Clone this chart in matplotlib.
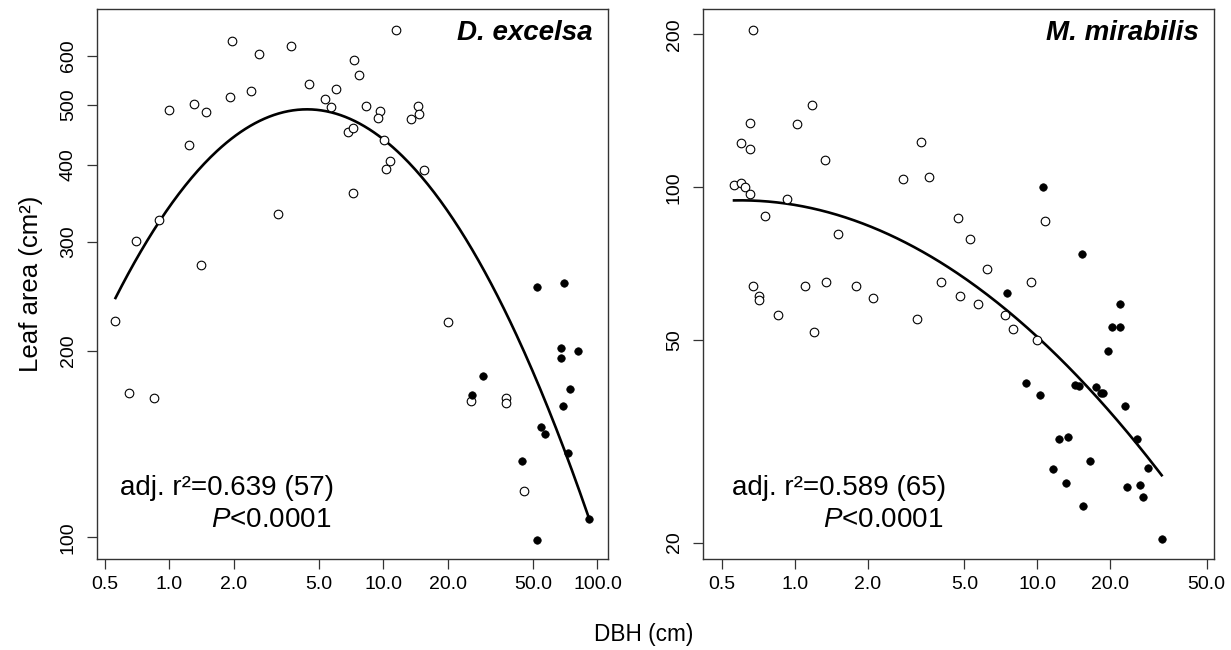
import numpy as np
import matplotlib
matplotlib.use("Agg")
import matplotlib.pyplot as plt
from matplotlib.ticker import FixedLocator, NullLocator

plt.rcParams['font.family'] = ['Liberation Sans', 'DejaVu Sans']
plt.rcParams['mathtext.fontset'] = 'custom'
plt.rcParams['mathtext.rm'] = 'Liberation Sans'
plt.rcParams['mathtext.it'] = 'Liberation Sans:italic'

# D. excelsa: open = smaller trees, filled = larger trees
dex_open_dbh = [0.56, 0.65, 0.85, 0.70, 0.89, 1.41, 1.00, 1.24, 1.30, 1.49,
                1.91, 1.96, 2.40, 2.61, 3.21, 3.70, 4.51, 5.32, 5.71, 6.01,
                6.82, 7.24, 7.32, 7.72, 7.24, 8.33, 9.65, 9.41, 10.1, 10.75,
                10.3, 11.5, 14.5, 14.7, 13.4, 15.4, 20.1, 25.6, 37.4, 37.4, 45.4]
dex_open_la = [224, 171, 168, 301, 326, 276, 490, 431, 502, 486,
               515, 635, 526, 604, 333, 622, 541, 511, 496, 530,
               452, 458, 590, 558, 360, 498, 488, 476, 438, 405,
               394, 661, 498, 483, 474, 392, 223, 166, 168, 165, 119]
dex_fill_dbh = [52.3, 69.4, 29.3, 26.0, 67.9, 81.2, 67.2, 74.6, 68.9, 54.2,
                56.8, 73.0, 44.6, 91.7, 52.3]
dex_fill_la = [254, 258, 182, 170, 202, 200, 195, 174, 163, 151,
               147, 137, 133, 107, 99]

# M. mirabilis
mmi_open_dbh = [0.67, 1.17, 0.65, 1.02, 0.60, 0.65, 3.32, 1.33, 2.79, 3.56,
                0.56, 0.60, 0.62, 0.65, 0.93, 0.75, 1.50, 4.69, 5.29, 6.18,
                0.67, 0.71, 0.71, 1.10, 1.34, 1.79, 2.09, 3.99, 4.80, 5.68,
                0.85, 3.19, 1.20, 7.36, 7.96, 9.94, 10.8, 9.42]
mmi_open_la = [204, 145, 134, 133, 122, 119, 123, 113, 104, 105,
               101, 102, 100, 97, 95, 88, 81, 87, 79, 69,
               64, 61, 60, 64, 65, 64, 60.5, 65, 61, 59,
               56, 55, 52, 56, 52.6, 50, 86, 65]
mmi_fill_dbh = [10.6, 15.3, 7.48, 21.9, 20.3, 21.9, 19.5, 8.98, 10.3, 14.3,
                14.8, 17.4, 18.3, 18.6, 23.0, 12.3, 13.4, 25.7, 16.5, 11.6,
                28.6, 13.1, 26.6, 23.5, 27.4, 15.5, 32.6]
mmi_fill_la = [100, 74, 62, 59, 53, 53, 47.7, 41.2, 39, 40.8,
               40.6, 40.5, 39.3, 39.4, 37.2, 32, 32.3, 31.9, 28.9, 27.9,
               28, 26.2, 26, 25.7, 24.6, 23.6, 20.3]

x_ticks_left = [0.5, 1, 2, 5, 10, 20, 50, 100]
x_ticks_right = [0.5, 1, 2, 5, 10, 20, 50]
y_ticks_left = [100, 200, 300, 400, 500, 600]
y_ticks_right = [20, 50, 100, 200]

edge = '#333333'

fig = plt.figure(figsize=(12.31, 6.5), dpi=100)
ax1 = fig.add_axes([97 / 1231, 91 / 650, 511 / 1231, 550 / 650])
ax2 = fig.add_axes([703 / 1231, 91 / 650, 511 / 1231, 550 / 650])


def panel(ax, odbh, ola, fdbh, fla, xt, yt, xlim, ylim, name, stat):
    ax.set_xscale('log')
    ax.set_yscale('log')
    # quadratic fit in log-log space on all trees
    xx = np.log10(np.concatenate([odbh, fdbh]))
    yy = np.log10(np.concatenate([ola, fla]))
    coef = np.polyfit(xx, yy, 2)
    xs = np.linspace(xx.min(), xx.max(), 300)
    ax.plot(10 ** xs, 10 ** np.polyval(coef, xs), color='black', lw=1.9, zorder=2)
    ax.plot(odbh, ola, 'o', ms=6.2, mfc='white', mec='black', mew=0.8, zorder=3)
    ax.plot(fdbh, fla, 'o', ms=5.4, mfc='black', mec='black', mew=0.5, zorder=3)
    ax.set_xlim(xlim)
    ax.set_ylim(ylim)
    ax.xaxis.set_major_locator(FixedLocator(xt))
    ax.xaxis.set_minor_locator(NullLocator())
    ax.set_xticklabels([f'{v:.1f}' for v in xt])
    ax.yaxis.set_major_locator(FixedLocator(yt))
    ax.yaxis.set_minor_locator(NullLocator())
    ax.set_yticklabels([str(v) for v in yt], rotation=90, va='center')
    ax.tick_params(axis='both', direction='out', length=7.5, width=0.9,
                   color=edge, labelsize=14)
    ax.tick_params(axis='x', pad=5)
    ax.tick_params(axis='y', pad=7)
    for s in ax.spines.values():
        s.set_color(edge)
        s.set_linewidth(1.0)
    ax.text(0.9706, 0.956, name, transform=ax.transAxes, ha='right', va='center',
            fontsize=20, fontweight='bold', style='italic')
    ax.text(stat[0], 0.129, stat[1], transform=ax.transAxes, ha='right',
            va='center', fontsize=20)
    ax.text(stat[0] - 0.006, 0.071, '$\\it{P}$<0.0001', transform=ax.transAxes,
            ha='right', va='center', fontsize=20)


panel(ax1, dex_open_dbh, dex_open_la, dex_fill_dbh, dex_fill_la,
      x_ticks_left, y_ticks_left, (0.459, 112), (92.3, 714), 'D. excelsa',
      (0.464, 'adj. r²=0.639 (57)'))
panel(ax2, mmi_open_dbh, mmi_open_la, mmi_fill_dbh, mmi_fill_la,
      x_ticks_right, y_ticks_right, (0.417, 53.6), (18.56, 224.4), 'M. mirabilis',
      (0.4755, 'adj. r²=0.589 (65)'))

ax1.set_ylabel('Leaf area (cm²)', fontsize=18.5, labelpad=12)
fig.text(644 / 1231, 1 - 635 / 650, 'DBH (cm)', ha='center', va='center', fontsize=16.3)

fig.savefig('out.png', dpi=100)
